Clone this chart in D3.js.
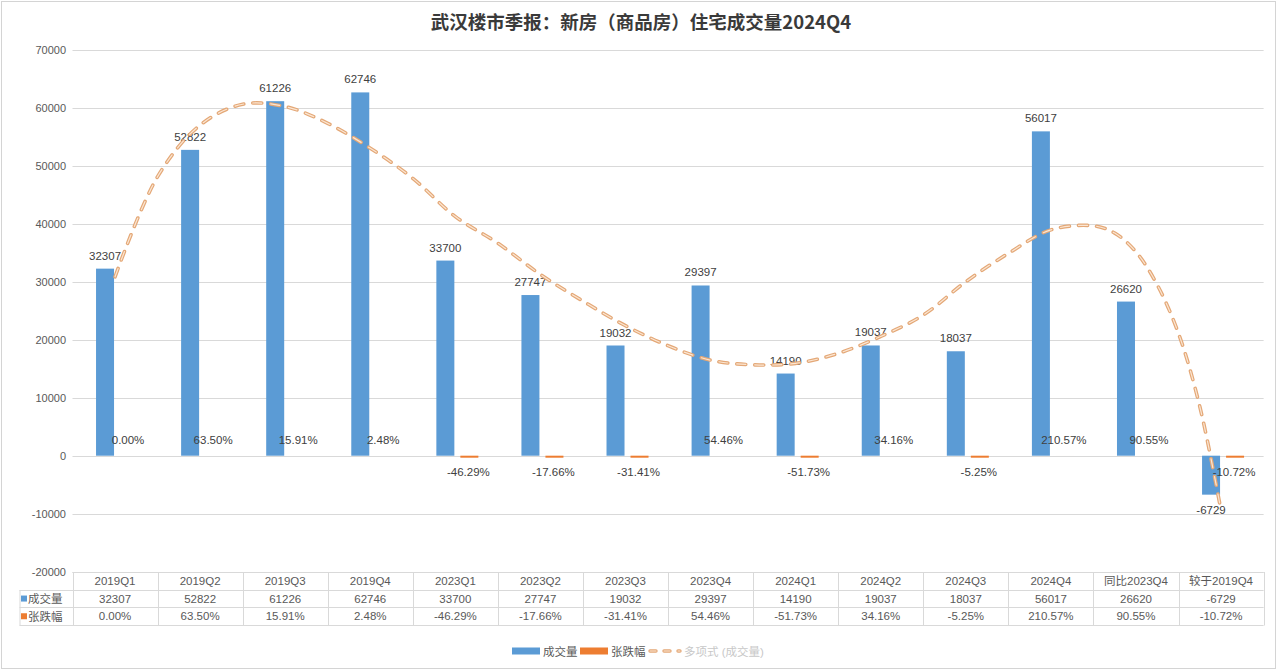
<!DOCTYPE html>
<html>
<head>
<meta charset="utf-8">
<script src="https://cdn.jsdelivr.net/npm/d3@7"></script>
<style>
  body { margin: 0; background: #fff; }
  text { font-family: "Liberation Sans", "Noto Sans CJK SC", sans-serif; }
</style>
</head>
<body>
<script>
// data
const categories = ["2019Q1","2019Q2","2019Q3","2019Q4","2023Q1","2023Q2","2023Q3","2023Q4",
                    "2024Q1","2024Q2","2024Q3","2024Q4","同比2023Q4","较于2019Q4"];
const volume = [32307,52822,61226,62746,33700,27747,19032,29397,14190,19037,18037,56017,26620,-6729];
const change = [0.00,63.50,15.91,2.48,-46.29,-17.66,-31.41,54.46,-51.73,34.16,-5.25,210.57,90.55,-10.72];
const yTicks = [-20000,-10000,0,10000,20000,30000,40000,50000,60000,70000];
// polynomial trendline, read at category positions (index along x)
const trendPos = [0,0.5,1,1.5,2,2.5,3,3.5,4,4.5,5,5.5,6,6.5,7,7.5,8,8.5,9,9.5,10,10.5,11,11.5,11.75,12,12.25,12.5,12.75,13];
const trendVal = [30900,48200,57100,60700,60300,57400,53100,47900,41300,36700,31300,26700,22450,19000,16500,15700,
                  15950,17680,20600,24300,30050,34950,39000,39700,38450,35200,29500,21100,8500,-9500];

const W = 1280, H = 672;
const blue = "#5b9bd5", orange = "#ed7d31", grid = "#d9d9d9", txt = "#595959";

const svg = d3.select("body").append("svg").attr("width", W).attr("height", H);

svg.append("rect").attr("x",1.5).attr("y",1.5).attr("width",1274).attr("height",667)
   .attr("fill","#fff").attr("stroke","#d4d4d4");

svg.append("text").attr("x",641).attr("y",29).attr("text-anchor","middle")
   .style("font-family","'Noto Sans CJK SC', sans-serif")
   .attr("font-size",18.5).attr("font-weight","bold").attr("fill","#3a3a3a")
   .text("武汉楼市季报：新房（商品房）住宅成交量2024Q4");

const x = d3.scaleBand().domain(categories).range([72.5, 1263.6]);
const xi = d3.scaleLinear().domain([0, categories.length-1])
             .range([x(categories[0]) + x.bandwidth()/2, x(categories[13]) + x.bandwidth()/2]);
const y = d3.scaleLinear().domain([-20000, 70000]).range([571.5, 50.4]);
const cx = d => x(d) + x.bandwidth()/2;

// gridlines
svg.append("g").selectAll("line").data(yTicks).join("line")
   .attr("x1", 72.5).attr("x2", 1263.6)
   .attr("y1", d => Math.round(y(d))+0.5).attr("y2", d => Math.round(y(d))+0.5)
   .attr("stroke", grid);

// y axis labels
svg.append("g").selectAll("text").data(yTicks).join("text")
   .attr("x", 66).attr("y", d => y(d)+4).attr("text-anchor","end")
   .attr("font-size",11).attr("fill",txt).text(d => d);

// volume bars
svg.append("g").selectAll("rect").data(volume).join("rect")
   .attr("x", (d,i) => cx(categories[i]) - 19).attr("width", 18)
   .attr("y", d => y(Math.max(0,d))).attr("height", d => Math.abs(y(d)-y(0)))
   .attr("fill", blue);

// change bars (same axis, so they are barely visible)
svg.append("g").selectAll("rect").data(change).join("rect")
   .attr("x", (d,i) => cx(categories[i]) + 5).attr("width", 18)
   .attr("y", d => d < 0 ? y(0) : y(d/100))
   .attr("height", d => d < 0 ? 2 : Math.abs(y(d/100)-y(0)))
   .attr("fill", orange);

// volume labels
svg.append("g").selectAll("text").data(volume).join("text")
   .attr("x", (d,i) => cx(categories[i]) - 10)
   .attr("y", d => d >= 0 ? y(d) - 9 : y(d) + 19)
   .attr("text-anchor","middle").attr("font-size",11.5).attr("fill","#404040")
   .text(d => d);

// change labels
svg.append("g").selectAll("text").data(change).join("text")
   .attr("x", (d,i) => cx(categories[i]) + 13)
   .attr("y", d => d >= 0 ? y(0) - 12 : y(0) + 20)
   .attr("text-anchor","middle").attr("font-size",11.5).attr("fill","#404040")
   .text(d => d.toFixed(2) + "%");

// trendline
const trend = d3.line().x((d,i) => xi(trendPos[i])).y(d => y(d)).curve(d3.curveCatmullRom);
svg.append("path").datum(trendVal).attr("d", trend).attr("fill","none")
   .attr("stroke","#e4a877").attr("stroke-width",3.6).attr("stroke-dasharray","9,9")
   .attr("stroke-linecap","round");
svg.append("path").datum(trendVal).attr("d", trend).attr("fill","none")
   .attr("stroke","#fbe6d3").attr("stroke-width",1.2).attr("stroke-dasharray","9,9")
   .attr("stroke-linecap","round");

// data table
const tTop = 572, rowH = 17.7;
const tb = svg.append("g");
const left = 72.5, right = 1263.6, hdrLeft = 19.5;
tb.append("line").attr("x1",left).attr("x2",right).attr("y1",tTop+0.5).attr("y2",tTop+0.5).attr("stroke",grid);
[1,2,3].forEach(r => {
  tb.append("line").attr("x1",hdrLeft).attr("x2",right)
    .attr("y1",Math.round(tTop+r*rowH)+0.5).attr("y2",Math.round(tTop+r*rowH)+0.5).attr("stroke",grid);
});
tb.append("line").attr("x1",hdrLeft+0.5).attr("x2",hdrLeft+0.5)
  .attr("y1",Math.round(tTop+rowH)).attr("y2",Math.round(tTop+3*rowH)+0.5).attr("stroke",grid);
tb.selectAll(".vl").data(d3.range(categories.length+1)).join("line").attr("class","vl")
  .attr("x1", i => Math.round(left + i*x.bandwidth())+0.5).attr("x2", i => Math.round(left + i*x.bandwidth())+0.5)
  .attr("y1", tTop).attr("y2", Math.round(tTop+3*rowH)+0.5).attr("stroke",grid);

tb.selectAll(".c").data(categories).join("text").attr("class","c")
  .attr("x", d => cx(d)).attr("y", tTop + rowH*0.5 + 4).attr("text-anchor","middle")
  .attr("font-size",11.5).attr("fill",txt).text(d => d);
tb.selectAll(".v").data(volume).join("text").attr("class","v")
  .attr("x", (d,i) => cx(categories[i])).attr("y", tTop + rowH*1.5 + 4).attr("text-anchor","middle")
  .attr("font-size",11.5).attr("fill",txt).text(d => d);
tb.selectAll(".p").data(change).join("text").attr("class","p")
  .attr("x", (d,i) => cx(categories[i])).attr("y", tTop + rowH*2.5 + 4).attr("text-anchor","middle")
  .attr("font-size",11.5).attr("fill",txt).text(d => d.toFixed(2) + "%");

[["成交量", blue], ["张跌幅", orange]].forEach((s, r) => {
  const yc = tTop + rowH*(1.5 + r);
  tb.append("rect").attr("x",21).attr("y",yc-3).attr("width",6).attr("height",6).attr("fill",s[1]);
  tb.append("text").attr("x",28).attr("y",yc+4.5).attr("font-size",11.5).attr("fill",txt).text(s[0]);
});

// legend
const lg = svg.append("g");
const ly = 651;
lg.append("rect").attr("x",512).attr("y",ly-3.5).attr("width",28).attr("height",7).attr("fill",blue);
lg.append("text").attr("x",543).attr("y",ly+4.5).attr("font-size",11.5).attr("fill",txt).text("成交量");
lg.append("rect").attr("x",580).attr("y",ly-3.5).attr("width",28).attr("height",7).attr("fill",orange);
lg.append("text").attr("x",611).attr("y",ly+4.5).attr("font-size",11.5).attr("fill",txt).text("张跌幅");
lg.append("line").attr("x1",650).attr("x2",680).attr("y1",ly).attr("y2",ly)
  .attr("stroke","#e4a877").attr("stroke-width",3.4).attr("stroke-dasharray","6,8").attr("stroke-linecap","round");
lg.append("line").attr("x1",650).attr("x2",680).attr("y1",ly).attr("y2",ly)
  .attr("stroke","#fbe6d3").attr("stroke-width",1.1).attr("stroke-dasharray","6,8").attr("stroke-linecap","round");
lg.append("text").attr("x",684).attr("y",ly+4.5).attr("font-size",11.5).attr("fill","#c8c8c8").text("多项式 (成交量)");
</script>
</body>
</html>
